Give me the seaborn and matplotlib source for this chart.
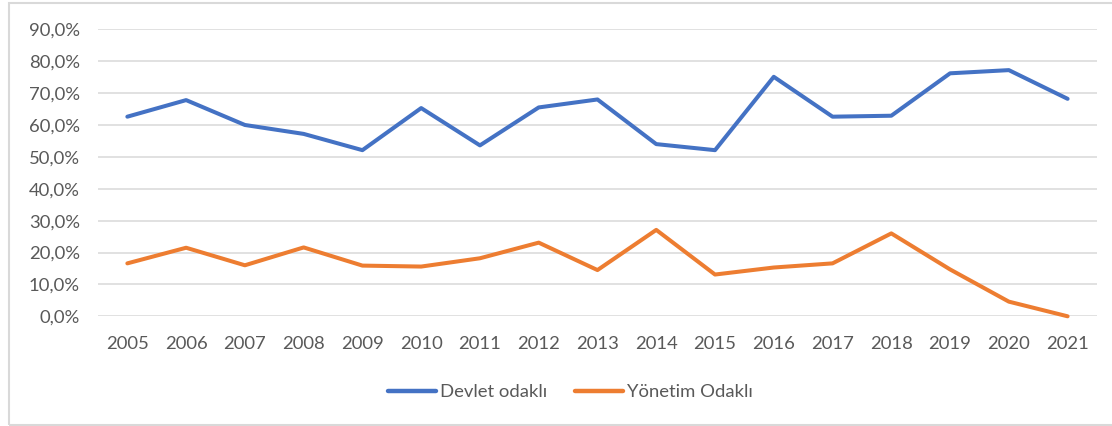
import matplotlib
matplotlib.use("Agg")
import matplotlib.pyplot as plt
from matplotlib.ticker import FuncFormatter
from matplotlib.patches import Rectangle
import pandas as pd
import seaborn as sns

# veriler (%)
years = list(range(2005, 2022))
devlet_odakli = [62.6, 67.8, 60.0, 57.2, 52.1, 65.3, 53.6, 65.5, 68.0,
                 54.0, 52.1, 75.1, 62.6, 62.9, 76.2, 77.2, 68.2]
yonetim_odakli = [16.6, 21.5, 16.0, 21.6, 15.9, 15.6, 18.2, 23.1, 14.5,
                  27.1, 13.1, 15.3, 16.6, 26.0, 14.7, 4.6, 0.0]
series_names = ["Devlet odaklı", "Yönetim Odaklı"]
colors = ["#4472C4", "#ED7D31"]

df = pd.DataFrame({
    "Yıl": years * 2,
    "Oran": [v / 100 for v in devlet_odakli + yonetim_odakli],
    "Seri": [series_names[0]] * len(years) + [series_names[1]] * len(years),
})

sns.set_style("white")
plt.rcParams["font.family"] = ["Lato", "DejaVu Sans"]
text_color = "#595959"
grid_color = "#D9D9D9"
fs = 13.3

fig = plt.figure(figsize=(11.12, 4.26), dpi=100)
ax = fig.add_axes([0.0881, 0.2575, 0.8984, 0.6737])

sns.lineplot(data=df, x="Yıl", y="Oran", hue="Seri", palette=colors,
             linewidth=2.9, ax=ax, legend=True)
for ln in ax.get_lines():
    ln.set_clip_on(False)
    ln.set_solid_capstyle("round")
    ln.set_solid_joinstyle("round")

# eksenler
ax.set_xlim(2004.5, 2021.5)
ax.set_ylim(0, 0.9)
ax.set_xticks(years)
ax.set_yticks([i / 10 for i in range(10)])
ax.yaxis.set_major_formatter(FuncFormatter(lambda v, _: f"{v*100:.1f}%".replace(".", ",")))
ax.set_xlabel("")
ax.set_ylabel("")
ax.tick_params(axis="both", length=0, labelsize=fs, colors=text_color)
ax.tick_params(axis="x", pad=14)
ax.tick_params(axis="y", pad=13)
for s in ax.spines.values():
    s.set_visible(False)
ax.grid(axis="y", color=grid_color, linewidth=1.1)
ax.grid(axis="x", visible=False)
ax.set_axisbelow(True)

# lejant
handles, labels = ax.get_legend_handles_labels()
ax.legend_.remove()
for h in handles:
    h.set_linewidth(3.2)
    h.set_solid_capstyle("round")
leg = fig.legend(handles, labels, loc="center", bbox_to_anchor=(0.513, 1 - 392 / 426),
                 ncol=2, frameon=False, fontsize=fs, handlelength=2.6,
                 handletextpad=0.2, columnspacing=1.5)
for t in leg.get_texts():
    t.set_color(text_color)

# grafik çerçevesi
fig.patches.append(Rectangle((9 / 1112, 1 / 426), 1.2, 1 - 4 / 426,
                             transform=fig.transFigure, fill=False,
                             edgecolor=grid_color, linewidth=1.5))

fig.savefig("out.png", dpi=100)
